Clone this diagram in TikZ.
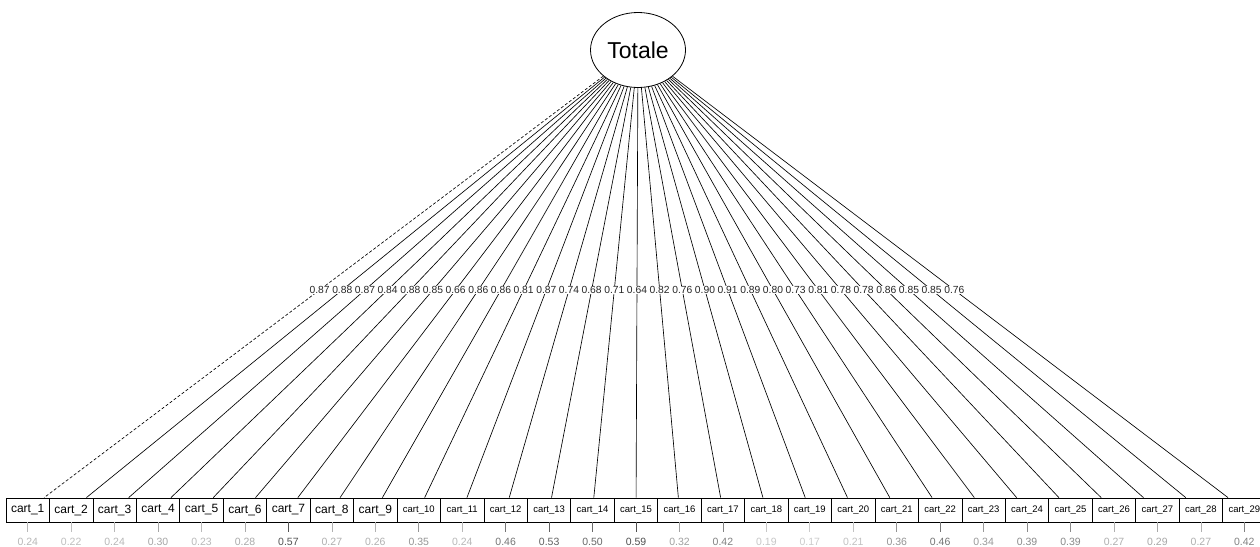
\documentclass[tikz,border=0pt]{standalone}
\usepackage{fontspec}
\setmainfont{Liberation Sans}
\usetikzlibrary{calc,shapes.geometric}
\begin{document}
\begin{tikzpicture}[x=1pt,y=-1pt,
  latent/.style={draw,ellipse,minimum width=95pt,minimum height=75pt,inner sep=0pt,line width=0.8pt,font=\fontsize{23}{23}\selectfont},
  manifest/.style={draw,rectangle,minimum width=43.45pt,minimum height=24pt,inner sep=0pt,line width=0.8pt},
  loading/.style={line width=0.65pt},
  lab/.style={fill=white,inner sep=0.6pt,font=\fontsize{10.3}{10.3}\selectfont,text=black!85},
  resid/.style={font=\fontsize{10.5}{10.5}\selectfont},
  tick/.style={line width=0.7pt}]
\useasboundingbox (0,0) rectangle (1260,546);
\fill[white] (0,0) rectangle (1260,546);
\node[latent] (top) at (638,50) {Totale};
% manifest boxes and residuals
\foreach \r [count=\i] in {0.24,0.22,0.24,0.30,0.23,0.28,0.57,0.27,0.26,0.35,0.24,0.46,0.53,0.50,0.59,0.32,0.42,0.19,0.17,0.21,0.36,0.46,0.34,0.39,0.39,0.27,0.29,0.27,0.42}{
  \pgfmathsetmacro\xc{6+43.45*(\i-1)+21.725}
  \pgfmathsetmacro\fs{\i<10 ? 12 : 9.5}
  \pgfmathtruncatemacro\shade{min(100,\r*118)}
  \node[manifest,font=\fontsize{\fs}{\fs}\selectfont] (b\i) at (\xc,510) {cart\_\i};
  \coordinate (t\i) at (\xc,532);
  \draw[tick,draw=black!\shade] (b\i.south) -- (t\i);
  \node[resid,text=black!\shade] (r\i) at (\xc,542) {\r};
}
% loadings
\draw[loading,dash pattern=on 3pt off 2pt] (top) -- (b1);
\foreach \i in {2,...,29}{
  \draw[loading] (top) -- (b\i);
}
\foreach \l [count=\i] in {0.87,0.88,0.87,0.84,0.88,0.85,0.66,0.86,0.86,0.81,0.87,0.74,0.68,0.71,0.64,0.82,0.76,0.90,0.91,0.89,0.80,0.73,0.81,0.78,0.78,0.86,0.85,0.85,0.76}{
  \node[lab] (l\i) at ($(top.center)!0.5217!(b\i.center)$) {\l};
}
\end{tikzpicture}
\end{document}
